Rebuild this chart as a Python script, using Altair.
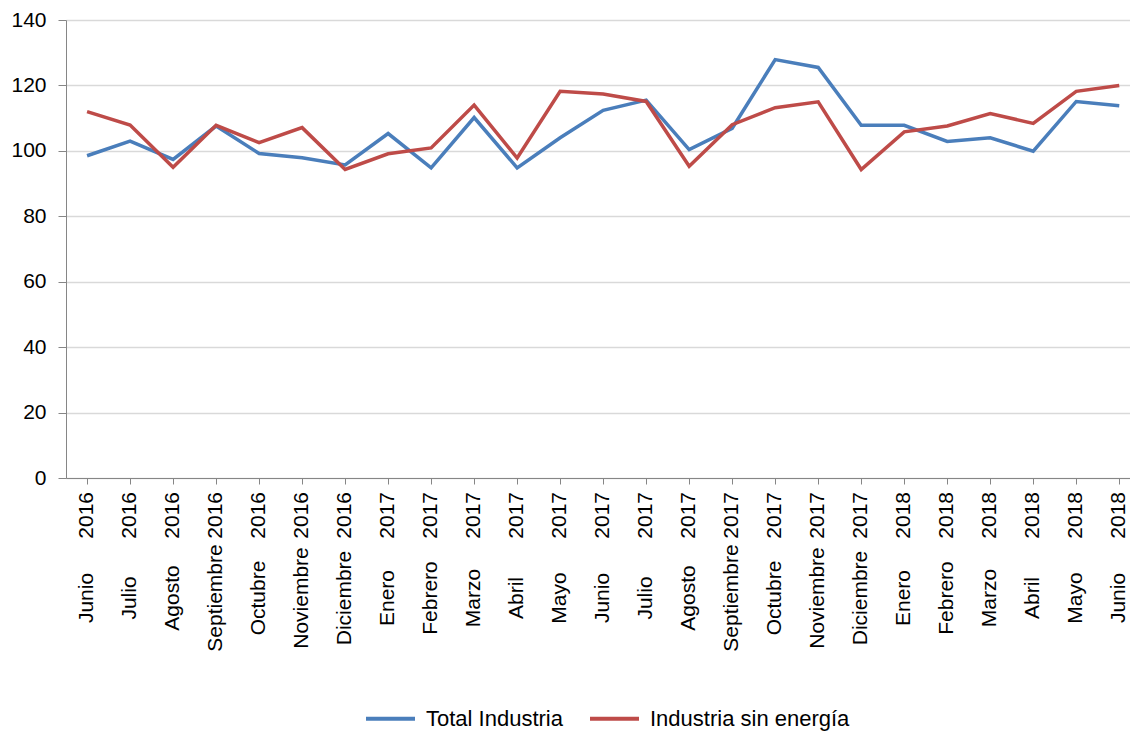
import altair as alt
import pandas as pd

months = ["Junio", "Julio", "Agosto", "Septiembre", "Octubre", "Noviembre", "Diciembre",
          "Enero", "Febrero", "Marzo", "Abril", "Mayo", "Junio", "Julio", "Agosto",
          "Septiembre", "Octubre", "Noviembre", "Diciembre",
          "Enero", "Febrero", "Marzo", "Abril", "Mayo", "Junio"]
years = ["2016", "2016", "2016", "2016", "2016", "2016", "2016",
         "2017", "2017", "2017", "2017", "2017", "2017", "2017", "2017",
         "2017", "2017", "2017", "2017",
         "2018", "2018", "2018", "2018", "2018", "2018"]

total_industria = [98.5, 103.0, 97.4, 107.6, 99.2, 97.9, 95.7, 105.3, 94.8, 110.2,
                   94.8, 104.0, 112.4, 115.5, 100.4, 106.9, 127.9, 125.5, 107.8,
                   107.8, 102.9, 104.0, 99.9, 115.1, 113.8]
industria_sin_energia = [112.0, 107.9, 95.0, 107.8, 102.5, 107.1, 94.3, 99.1, 100.9, 114.0,
                         97.8, 118.2, 117.4, 115.1, 95.3, 108.0, 113.2, 115.0, 94.3,
                         105.8, 107.6, 111.4, 108.4, 118.2, 120.0]

series = ["Total Industria", "Industria sin energía"]
colors = ["#4a7ebb", "#be4b48"]
y_ticks = [0, 20, 40, 60, 80, 100, 120, 140]

rows = []
for name, vals in zip(series, [total_industria, industria_sin_energia]):
    for i, v in enumerate(vals):
        rows.append({"idx": i, "serie": name, "valor": v})
df = pd.DataFrame(rows)

lab = pd.DataFrame({"idx": list(range(len(months))), "mes": months, "anio": years})

FONT = "Liberation Sans"
FS = 21

xscale = alt.Scale(domain=[-0.49, 24.25], nice=False, zero=False)
xaxis = alt.Axis(values=list(range(len(months))), labels=False, title=None, grid=False,
                 tickSize=6, tickColor="#868686", domainColor="#868686")

lines = alt.Chart(df).mark_line(strokeWidth=3.5).encode(
    x=alt.X("idx:Q", scale=xscale, axis=xaxis),
    y=alt.Y("valor:Q", scale=alt.Scale(domain=[0, 140], nice=False),
            axis=alt.Axis(values=y_ticks, title=None, grid=True, gridColor="#d9d9d9",
                          gridWidth=1.5, tickSize=8, tickColor="#868686",
                          domainColor="#868686", labelPadding=12, labelFontSize=FS,
                          labelFont=FONT, labelColor="black")),
    color=alt.Color("serie:N", sort=series,
                    scale=alt.Scale(domain=series, range=colors),
                    legend=alt.Legend(title=None, orient="none", legendX=298, legendY=672,
                                      direction="horizontal", symbolType="stroke",
                                      symbolSize=2401, symbolStrokeWidth=4,
                                      labelFontSize=22, labelFont=FONT, labelColor="black",
                                      labelOffset=9, columnPadding=19, labelLimit=400)),
    order=alt.Order("idx:Q"),
)

year_text = alt.Chart(lab).mark_text(angle=270, align="right", baseline="middle",
                                     fontSize=FS, font=FONT, color="black").encode(
    x=alt.X("idx:Q", scale=xscale, axis=xaxis),
    y=alt.value(472),
    text="anio:N",
)

month_text = alt.Chart(lab).mark_text(angle=270, align="center", baseline="middle",
                                      fontSize=FS, font=FONT, color="black").encode(
    x=alt.X("idx:Q", scale=xscale, axis=xaxis),
    y=alt.value(578),
    text="mes:N",
)

chart = alt.layer(lines, year_text, month_text).properties(
    width=1064, height=458, autosize="none",
    padding={"left": 58, "top": 12, "right": 0, "bottom": 254},
    background="white",
).configure_view(stroke=None)

chart.save("out.html", embed_options={"renderer": "svg", "actions": False})
